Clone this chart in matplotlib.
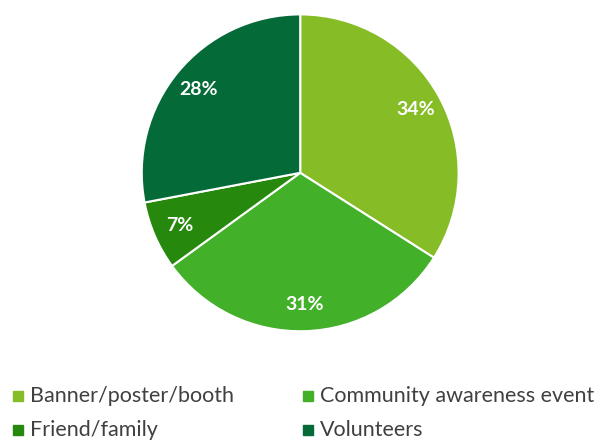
import matplotlib.pyplot as plt
from matplotlib.patches import Rectangle

categories = ['Banner/poster/booth', 'Community awareness event', 'Friend/family', 'Volunteers']
shares = [34, 31, 7, 28]
colors = ['#86BC25', '#43B02A', '#26890D', '#046A38']

plt.rcParams['font.family'] = ['Lato', 'DejaVu Sans']

fig = plt.figure(figsize=(6.04, 4.42), dpi=100)
ax = fig.add_axes([0.232, 0.247, 0.53, 0.724])

wedges, texts, autotexts = ax.pie(
    shares, colors=colors, startangle=90, counterclock=False,
    autopct='%d%%', pctdistance=0.83,
    wedgeprops=dict(edgecolor='white', linewidth=1.5),
    textprops=dict(color='white', fontsize=14, fontweight='bold'))
ax.set_xlim(-1.01, 1.01)
ax.set_ylim(-1.01, 1.01)
ax.set_aspect('equal')

# legend laid out by hand, two columns
W, H = 604, 442
for i, (name, c) in enumerate(zip(categories, colors)):
    x = [18, 308][i % 2]
    y = [396, 430][i // 2]
    fig.patches.append(Rectangle(((x - 5) / W, 1 - (y + 5) / H), 10 / W, 10 / H,
                                 transform=fig.transFigure, color=c))
    fig.text((x + 12) / W, 1 - y / H, name, fontsize=15.5, color='#404040', va='center')

fig.savefig('out.png', dpi=100)
